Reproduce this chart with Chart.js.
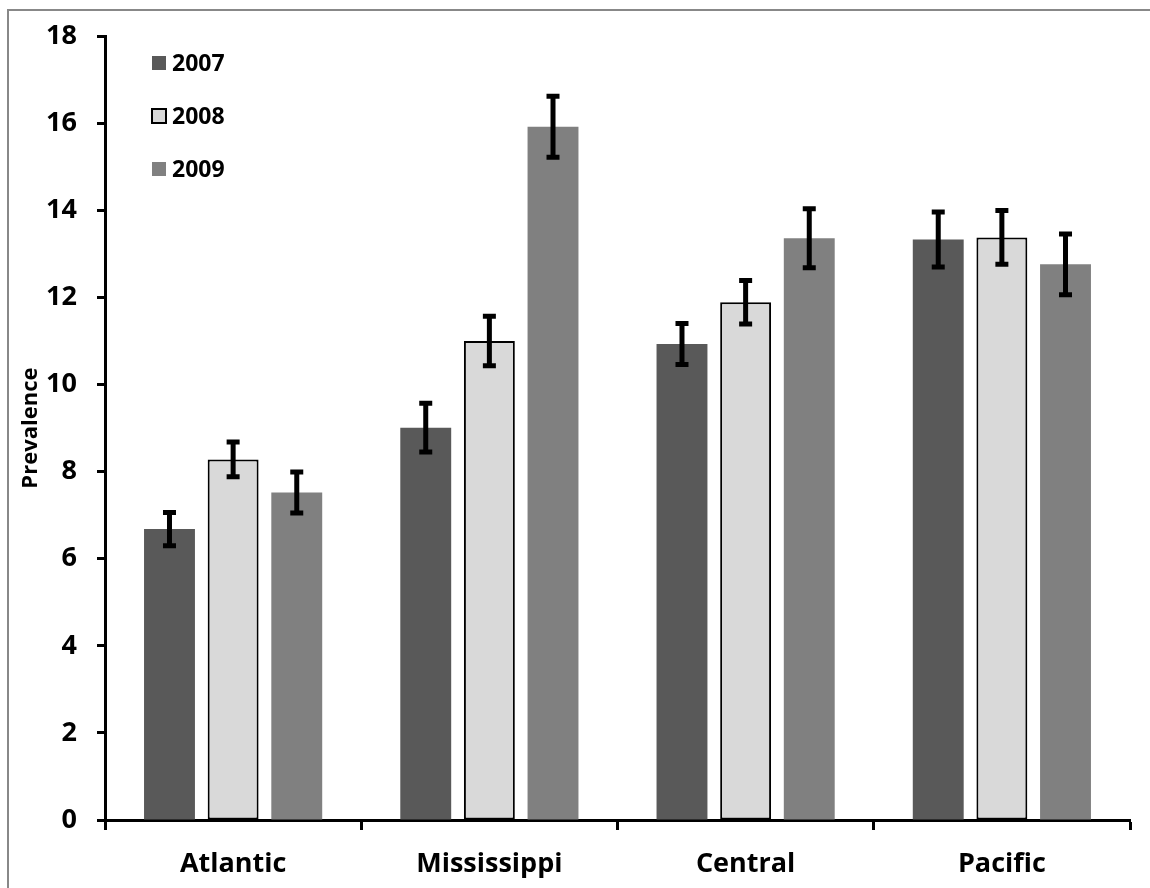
<!DOCTYPE html>
<html>
<head>
<meta charset="utf-8">
<script src="https://cdn.jsdelivr.net/npm/chart.js@4/dist/chart.umd.min.js"></script>
<style>
  html, body { margin: 0; padding: 0; background: #fff; }
  #wrap {
    position: absolute; left: 0; top: 0; width: 1150px; height: 888px;
  }
  #frame {
    position: absolute; left: 7px; top: 9px; width: 1160px; height: 900px;
    border-left: 2px solid #888; border-top: 2px solid #888;
    box-sizing: border-box; pointer-events: none;
  }
</style>
</head>
<body>
<div id="wrap">
  <canvas id="chart" width="1150" height="888"></canvas>
  <div id="frame"></div>
</div>
<script>
const categories = ["Atlantic", "Mississippi", "Central", "Pacific"];
const years = ["2007", "2008", "2009"];

const values2007 = [6.68, 9.01, 10.93, 13.33];
const values2008 = [8.28, 11.0, 11.89, 13.38];
const values2009 = [7.52, 15.92, 13.36, 12.76];

const err2007 = [0.38, 0.56, 0.47, 0.63];
const err2008 = [0.40, 0.57, 0.50, 0.62];
const err2009 = [0.47, 0.70, 0.68, 0.70];

const yTicks = [0, 2, 4, 6, 8, 10, 12, 14, 16, 18];

const FONT = "'Open Sans', sans-serif";

const colors = ["#595959", "#d9d9d9", "#808080"];

// error bars, drawn from the bar elements and the y scale
const errorBars = {
  id: "errorBars",
  afterDatasetsDraw(chart) {
    const ctx = chart.ctx;
    const y = chart.scales.y;
    ctx.save();
    ctx.strokeStyle = "#000";
    ctx.lineWidth = 5;
    chart.data.datasets.forEach((ds, i) => {
      const meta = chart.getDatasetMeta(i);
      meta.data.forEach((bar, j) => {
        const v = ds.data[j];
        const e = ds.errors[j];
        const top = y.getPixelForValue(v + e);
        const bot = y.getPixelForValue(v - e);
        ctx.beginPath();
        ctx.moveTo(bar.x, top);
        ctx.lineTo(bar.x, bot);
        ctx.moveTo(bar.x - 6.5, top);
        ctx.lineTo(bar.x + 6.5, top);
        ctx.moveTo(bar.x - 6.5, bot);
        ctx.lineTo(bar.x + 6.5, bot);
        ctx.stroke();
      });
    });
    ctx.restore();
  }
};

// legend stacked inside the plot, top-left
const innerLegend = {
  id: "innerLegend",
  afterDraw(chart) {
    const ctx = chart.ctx;
    ctx.save();
    ctx.font = "bold 23px " + FONT;
    ctx.textBaseline = "middle";
    ctx.textAlign = "left";
    chart.data.datasets.forEach((ds, i) => {
      const cy = 63 + i * 53;
      ctx.fillStyle = ds.backgroundColor;
      ctx.fillRect(152, cy - 7, 14, 14);
      if (ds.borderWidth) {
        ctx.strokeStyle = "#000";
        ctx.lineWidth = 2;
        ctx.strokeRect(152, cy - 7, 14, 14);
      }
      ctx.fillStyle = "#000";
      ctx.fillText(ds.label, 172, cy + 1);
    });
    ctx.restore();
  }
};

const datasets = [
  { label: years[0], data: values2007, errors: err2007, backgroundColor: colors[0], borderWidth: 0 },
  { label: years[1], data: values2008, errors: err2008, backgroundColor: colors[1], borderColor: "#000", borderWidth: 2 },
  { label: years[2], data: values2009, errors: err2009, backgroundColor: colors[2], borderWidth: 0 }
];

new Chart(document.getElementById("chart"), {
  type: "bar",
  data: { labels: categories, datasets },
  options: {
    responsive: false,
    animation: false,
    devicePixelRatio: 1,
    layout: { padding: { top: 33, right: 20, left: 0, bottom: 0 } },
    datasets: {
      bar: { categoryPercentage: 0.745, barPercentage: 0.8, borderSkipped: false }
    },
    plugins: {
      legend: { display: false },
      tooltip: { enabled: false }
    },
    scales: {
      y: {
        min: 0,
        max: 18,
        afterFit: (s) => { s.width = 105; },
        afterBuildTicks: (s) => { s.ticks = yTicks.map((v) => ({ value: v })); },
        border: { display: true, color: "#000", width: 3 },
        grid: { drawOnChartArea: false, drawTicks: true, tickLength: 8, tickColor: "#000", tickWidth: 3 },
        ticks: { color: "#000", padding: 20, font: { family: FONT, size: 27, weight: "bold" } },
        title: {
          display: true,
          text: "Prevalence",
          color: "#000",
          padding: { top: 18, bottom: 0 },
          font: { family: FONT, size: 22, weight: "bold" }
        }
      },
      x: {
        afterFit: (s) => { s.height = 68; },
        border: { display: true, color: "#000", width: 3 },
        grid: { drawOnChartArea: false, drawTicks: true, tickLength: 10, tickColor: "#000", tickWidth: 3 },
        ticks: { color: "#000", padding: 18, font: { family: FONT, size: 27, weight: "bold" } }
      }
    }
  },
  plugins: [errorBars, innerLegend]
});
</script>
</body>
</html>
